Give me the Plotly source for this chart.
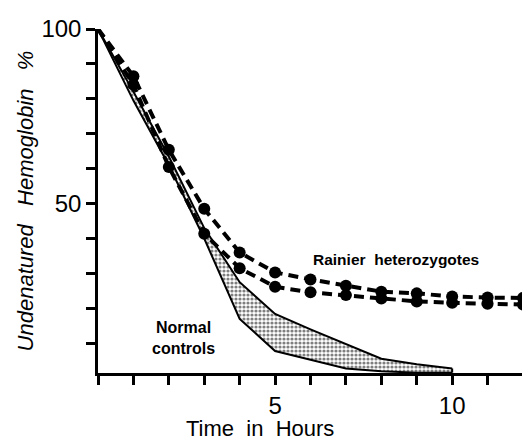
import plotly.graph_objects as go

hours = [0, 1, 2, 3, 4, 5, 6, 7, 8, 9, 10, 11, 12]
rainier_upper = [100, 86.5, 65.4, 48.5, 36.0, 30.3, 28.3, 26.5, 24.8, 24.3, 23.4, 23.1, 23.0]
rainier_lower = [100, 84.0, 60.5, 41.4, 31.5, 26.2, 24.6, 23.8, 22.8, 22.0, 21.6, 21.3, 21.1]

ctrl_hours = [0, 1, 2, 3, 4, 5, 6, 7, 8, 9, 10]
ctrl_upper = [100, 82.0, 63.5, 43.0, 27.5, 18.4, 14.0, 9.8, 5.6, 4.0, 2.8]
ctrl_lower = [100, 79.5, 61.0, 40.0, 17.0, 7.8, 5.3, 2.8, 2.0, 1.6, 1.6]

x_tick_vals = [5, 10]
x_tick_text = ["5", "10"]
y_tick_vals = [50, 100]
y_tick_text = ["50", "100"]

FONT = "Liberation Sans"

fig = go.Figure()

# Normal controls band
fig.add_trace(go.Scatter(
    x=ctrl_hours, y=ctrl_lower, mode="lines",
    line=dict(color="black", width=2), showlegend=False, hoverinfo="skip"))
fig.add_trace(go.Scatter(
    x=ctrl_hours, y=ctrl_upper, mode="lines",
    line=dict(color="black", width=2), fill="tonexty",
    fillcolor="white",
    fillpattern=dict(shape=".", fgcolor="black", bgcolor="white", size=4, solidity=0.5),
    showlegend=False, hoverinfo="skip"))
fig.add_trace(go.Scatter(
    x=[ctrl_hours[-1], ctrl_hours[-1]], y=[ctrl_lower[-1], ctrl_upper[-1]], mode="lines",
    line=dict(color="black", width=2), showlegend=False, hoverinfo="skip"))

sizes = [0] + [12] * (len(hours) - 1)
for ys in (rainier_upper, rainier_lower):
    fig.add_trace(go.Scatter(
        x=hours, y=ys, mode="lines+markers",
        line=dict(color="black", width=4, dash="10px,6px"),
        marker=dict(color="#000000", size=sizes, opacity=1, line=dict(width=0, color="#000000")),
        cliponaxis=False, showlegend=False, hoverinfo="skip"))

fig.add_annotation(x=8.4, y=34.0, text="<b>Rainier  heterozygotes</b>", showarrow=False,
                   font=dict(family=FONT, size=15.5, color="black"))
fig.add_annotation(x=2.4, y=11.6, text="<b>Normal<br>controls</b>", showarrow=False,
                   font=dict(family=FONT, size=16, color="black"))
fig.add_annotation(x=0.381, xref="paper", y=-0.161, yref="paper", yanchor="middle",
                   text="Time  in  Hours", showarrow=False,
                   font=dict(family=FONT, size=22, color="black"))

fig.update_xaxes(
    range=[0, 12], showgrid=False, zeroline=False,
    showline=True, linecolor="black", linewidth=2.5,
    tickvals=x_tick_vals, ticktext=x_tick_text,
    ticks="outside", ticklen=9, tickwidth=2.5, tickcolor="black",
    minor=dict(dtick=1, tick0=0, ticks="outside", ticklen=9, tickwidth=2.5, tickcolor="black"),
    ticklabeloverflow="allow",
    tickfont=dict(family=FONT, size=24, color="black"))
fig.update_yaxes(
    range=[1.5, 100], showgrid=False, zeroline=False,
    showline=True, linecolor="black", linewidth=2.5,
    tickvals=y_tick_vals, ticktext=y_tick_text,
    ticks="outside", ticklen=9, tickwidth=2.5, tickcolor="black",
    minor=dict(dtick=10, tick0=0, ticks="outside", ticklen=9, tickwidth=2.5, tickcolor="black"),
    ticklabeloverflow="allow",
    tickfont=dict(family=FONT, size=24, color="black"),
    title=dict(text="<i>Undenatured   Hemoglobin   %</i>", standoff=2,
               font=dict(family=FONT, size=22, color="black")))

fig.update_layout(
    width=522, height=436,
    margin=dict(l=90, r=7, t=12, b=71),
    plot_bgcolor="white", paper_bgcolor="white",
    showlegend=False)

fig.write_html("out.html")
